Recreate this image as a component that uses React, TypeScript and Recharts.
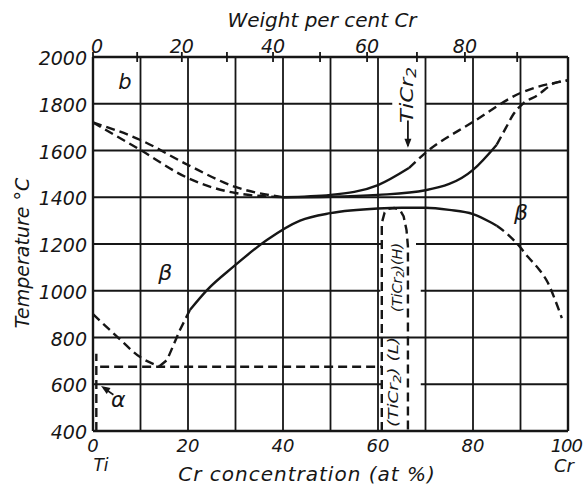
import React from 'react';
import { LineChart, Line, XAxis, YAxis, ReferenceLine, ReferenceDot } from 'recharts';

const INK = '#161616';
const FONT = "'DejaVu Sans', 'Liberation Sans', sans-serif";

// bottom axis: atomic per cent Cr
const atTicks = [0, 10, 20, 30, 40, 50, 60, 70, 80, 90, 100];
const atLabels = ['0', '', '20', '', '40', '', '60', '', '80', '', '100'];
// top axis: weight per cent Cr, ticks sit at the matching at% position
const wtTicks = [0, 9.3, 18.7, 28.2, 37.9, 47.8, 57.7, 68.2, 78.3, 89.3];
const wtLabels = ['0', '', '20', '', '40', '', '60', '', '80', ''];
const tempTicks = [400, 600, 800, 1000, 1200, 1400, 1600, 1800, 2000];
const gridCols = [10, 20, 30, 40, 50, 60, 70, 80, 90];
const gridRows = [600, 800, 1000, 1200, 1400, 1600, 1800];
// rows broken where the TiCr2 labels are written: [temp, from, to]
const gridGaps = [[600, 61, 69], [1000, 60.5, 69], [1200, 61, 68], [1800, 63, 70]];

// curves, x = at% Cr, t = temperature °C
const liquidusTi = [{ x: 0, t: 1720 }, { x: 10, t: 1645 }, { x: 20, t: 1538 }, { x: 30, t: 1444 }, { x: 40, t: 1400 }];
const solidusTi = [{ x: 0, t: 1720 }, { x: 10, t: 1602 }, { x: 20, t: 1482 }, { x: 30, t: 1418 }, { x: 40, t: 1400 }];
const liquidusMid = [{ x: 40, t: 1400 }, { x: 50, t: 1410 }, { x: 60, t: 1452 }, { x: 66.5, t: 1525 }];
const liquidusCr = [{ x: 66.5, t: 1525 }, { x: 70, t: 1590 }, { x: 80, t: 1722 }, { x: 90, t: 1846 }, { x: 100, t: 1900 }];
const solidusMid = [{ x: 40, t: 1400 }, { x: 50, t: 1402 }, { x: 60, t: 1410 }, { x: 70, t: 1430 }, { x: 80, t: 1517 }, { x: 85, t: 1625 }];
const solidusCr = [
  { x: 85, t: 1625 }, { x: 87, t: 1700 }, { x: 88.5, t: 1755 }, { x: 90.6, t: 1802 },
  { x: 93.5, t: 1835 }, { x: 97, t: 1887 }, { x: 100, t: 1900 },
];
const betaSolvus = [
  { x: 20.4, t: 918 }, { x: 24, t: 1003 }, { x: 29.5, t: 1102 }, { x: 36.6, t: 1217 }, { x: 43.6, t: 1300 },
  { x: 50, t: 1332 }, { x: 60, t: 1352 }, { x: 65, t: 1355 }, { x: 70, t: 1355 }, { x: 75, t: 1346 },
  { x: 80, t: 1328 }, { x: 83.6, t: 1294 }, { x: 85, t: 1278 },
];
const betaSolvusCr = [
  { x: 85, t: 1278 }, { x: 87, t: 1247 }, { x: 89.9, t: 1187 }, { x: 91.6, t: 1144 }, { x: 94, t: 1089 },
  { x: 95.8, t: 1033 }, { x: 97.3, t: 960 }, { x: 98.7, t: 883 },
];
const betaTransusLeft = [{ x: 0, t: 900 }, { x: 5, t: 805 }, { x: 10, t: 715 }, { x: 14, t: 677 }];
const betaTransusRight = [{ x: 14, t: 677 }, { x: 15.6, t: 704 }, { x: 18.3, t: 832 }, { x: 20.4, t: 918 }];
const eutectoid = [{ x: 1.5, t: 675 }, { x: 60.8, t: 675 }];
const alphaEdge = [{ x: 0.7, t: 400 }, { x: 0.7, t: 730 }];
const laves = [
  { x: 60.8, t: 400 }, { x: 60.8, t: 1290 }, { x: 61.4, t: 1335 }, { x: 62.2, t: 1350 }, { x: 63.4, t: 1354 },
  { x: 64.6, t: 1346 }, { x: 65.4, t: 1318 }, { x: 66, t: 1260 }, { x: 66.3, t: 1190 }, { x: 66.3, t: 400 },
];

const letters = { fontFamily: FONT, fontStyle: 'italic', fill: INK } as const;

const AtTick = (p: any) => {
  const i = atTicks.indexOf(p.payload.value);
  const last = i === atTicks.length - 1;
  return (
    <g>
      <text
        x={last ? 582 : p.x}
        y={p.y + 21}
        textAnchor={last ? 'end' : 'middle'}
        letterSpacing={last ? -1 : 0}
        fontSize={18}
        {...letters}
      >
        {atLabels[i]}
      </text>
      {i === 0 && <text x={p.x + 8} y={p.y + 40} textAnchor="middle" fontSize={17} {...letters}>Ti</text>}
      {last && <text x={p.x - 4} y={p.y + 41} textAnchor="middle" fontSize={18} {...letters}>Cr</text>}
    </g>
  );
};

const WtMark = ({ cx, cy, label, first }: any) => (
  <g>
    <line x1={cx} x2={cx} y1={cy - 5} y2={cy + 5} stroke={INK} strokeWidth={1.8} />
    <text x={cx + (first ? 4 : 0)} y={cy - 4} textAnchor="middle" fontSize={19} {...letters}>{label}</text>
  </g>
);

const TempTick = (p: any) => (
  <text x={p.x - 6} y={p.y + 8} textAnchor="end" fontSize={19} {...letters}>{p.payload.value}</text>
);

const topTitle = (p: any) => {
  const vb = p.viewBox;
  return <text x={vb.x + 229} y={vb.y + 27} textAnchor="middle" fontSize={20} {...letters}>Weight per cent Cr</text>;
};
const bottomTitle = (p: any) => {
  const vb = p.viewBox;
  return <text x={vb.x + 214} y={vb.y + 50} textAnchor="middle" fontSize={20} letterSpacing={1} {...letters}>Cr concentration (at %)</text>;
};
const sideTitle = (p: any) => {
  const vb = p.viewBox;
  const cx = vb.x + 22;
  const cy = vb.y + 196;
  return (
    <text x={cx} y={cy} transform={`rotate(-90 ${cx} ${cy})`} textAnchor="middle" dominantBaseline="central" fontSize={19} {...letters}>
      Temperature °C
    </text>
  );
};

const notes = [
  { x: 6.7, t: 1893, text: 'b', size: 21 },
  { x: 15.2, t: 1076, text: 'β', size: 22 },
  { x: 90.1, t: 1333, text: 'β', size: 22 },
  { x: 5.3, t: 533, text: 'α', size: 22 },
];

const Note = ({ cx, cy, text, size }: any) => (
  <text x={cx} y={cy} textAnchor="middle" dominantBaseline="central" fontSize={size} {...letters}>{text}</text>
);

const Upright = ({ cx, cy, size, len, main, sub, tail }: any) => (
  <text
    x={cx}
    y={cy}
    transform={`rotate(-90 ${cx} ${cy})`}
    textAnchor="middle"
    dominantBaseline="central"
    fontSize={size}
    textLength={len}
    lengthAdjust="spacingAndGlyphs"
    {...letters}
  >
    {main}
    <tspan fontSize={size * 0.75} dy={size * 0.25}>{sub}</tspan>
    <tspan dy={-size * 0.25}>{tail}</tspan>
  </text>
);

const Head = ({ cx, cy, angle }: any) => (
  <path d="M0,0 L-9,-3.5 L-9,3.5 Z" fill={INK} transform={`translate(${cx} ${cy}) rotate(${angle})`} />
);

const dashed = '9 5';

export default function App() {
  const curve = (data: any[], dash: boolean, type: any = 'monotone') => (
    <Line
      data={data}
      dataKey="t"
      xAxisId="at"
      type={type}
      stroke={INK}
      strokeWidth={2.4}
      strokeDasharray={dash ? dashed : undefined}
      dot={false}
      activeDot={false}
      isAnimationActive={false}
    />
  );
  return (
    <div style={{ position: 'absolute', left: 0, top: 0, background: '#fff' }}>
      <LineChart width={583} height={488} margin={{ top: 0, right: 15, bottom: 0, left: 0 }}>
        <XAxis
          xAxisId="at"
          dataKey="x"
          type="number"
          domain={[0, 100]}
          ticks={atTicks}
          interval={0}
          height={57}
          axisLine={false}
          tickLine={false}
          tickSize={0}
          tickMargin={0}
          tick={(p: any) => <AtTick {...p} />}
          label={bottomTitle}
        />
        <XAxis
          xAxisId="wt"
          orientation="top"
          dataKey="x"
          type="number"
          domain={[0, 100]}
          height={57}
          axisLine={false}
          tickLine={false}
          tick={false}
          label={topTitle}
        />
        <YAxis
          type="number"
          domain={[400, 2000]}
          ticks={tempTicks}
          interval={0}
          width={93}
          axisLine={false}
          tickLine={false}
          tickSize={0}
          tickMargin={0}
          tick={(p: any) => <TempTick {...p} />}
          label={sideTitle}
        />

        {gridCols.map((c) => (
          <ReferenceLine key={`c${c}`} xAxisId="at" x={c} stroke={INK} strokeWidth={1.8} />
        ))}
        {gridRows.map((r) => {
          const gap = gridGaps.find((g) => g[0] === r);
          if (!gap) return <ReferenceLine key={`r${r}`} xAxisId="at" y={r} stroke={INK} strokeWidth={1.8} />;
          return [
            <ReferenceLine key={`r${r}a`} xAxisId="at" segment={[{ x: 0, y: r }, { x: gap[1], y: r }]} stroke={INK} strokeWidth={1.8} />,
            <ReferenceLine key={`r${r}b`} xAxisId="at" segment={[{ x: gap[2], y: r }, { x: 100, y: r }]} stroke={INK} strokeWidth={1.8} />,
          ];
        })}
        <ReferenceLine xAxisId="at" x={0} stroke={INK} strokeWidth={2.4} />
        <ReferenceLine xAxisId="at" x={100} stroke={INK} strokeWidth={2.4} />
        <ReferenceLine xAxisId="at" y={400} stroke={INK} strokeWidth={2.4} />
        <ReferenceLine xAxisId="at" y={2000} stroke={INK} strokeWidth={2.4} />

        {wtTicks.map((w, i) => (
          <ReferenceDot
            key={`w${i}`}
            xAxisId="at"
            x={w}
            y={2000}
            r={1}
            shape={(p: any) => <WtMark {...p} label={wtLabels[i]} first={i === 0} />}
          />
        ))}

        {curve(liquidusTi, true)}
        {curve(solidusTi, true)}
        {curve(liquidusMid, false)}
        {curve(liquidusCr, true)}
        {curve(solidusMid, false)}
        {curve(solidusCr, true)}
        {curve(betaSolvus, false)}
        {curve(betaSolvusCr, true)}
        {curve(betaTransusLeft, true)}
        {curve(betaTransusRight, true, 'linear')}
        {curve(eutectoid, true, 'linear')}
        {curve(alphaEdge, true, 'linear')}
        {curve(laves, true, 'linear')}

        {notes.map((n, i) => (
          <ReferenceDot key={`n${i}`} xAxisId="at" x={n.x} y={n.t} r={1} shape={(p: any) => <Note {...p} text={n.text} size={n.size} />} />
        ))}
        <ReferenceDot xAxisId="at" x={66.1} y={1838} r={1} shape={(p: any) => <Upright {...p} size={18} len={56} main="TiCr" sub="2" tail="" />} />
        <ReferenceDot xAxisId="at" x={64.0} y={1057} r={1} shape={(p: any) => <Upright {...p} size={14} len={69} main="(TiCr" sub="2" tail=")(H)" />} />
        <ReferenceDot xAxisId="at" x={63.2} y={610} r={1} shape={(p: any) => <Upright {...p} size={14} len={90} main="(TiCr" sub="2" tail=") (L)" />} />

        <ReferenceLine xAxisId="at" segment={[{ x: 66.3, y: 1728 }, { x: 66.3, y: 1620 }]} stroke={INK} strokeWidth={1.8} />
        <ReferenceDot xAxisId="at" x={66.3} y={1612} r={1} shape={(p: any) => <Head {...p} angle={90} />} />
        <ReferenceLine xAxisId="at" segment={[{ x: 4.3, y: 555 }, { x: 2.2, y: 585 }]} stroke={INK} strokeWidth={1.6} />
        <ReferenceDot xAxisId="at" x={1.7} y={592} r={1} shape={(p: any) => <Head {...p} angle={-147} />} />
      </LineChart>
    </div>
  );
}
